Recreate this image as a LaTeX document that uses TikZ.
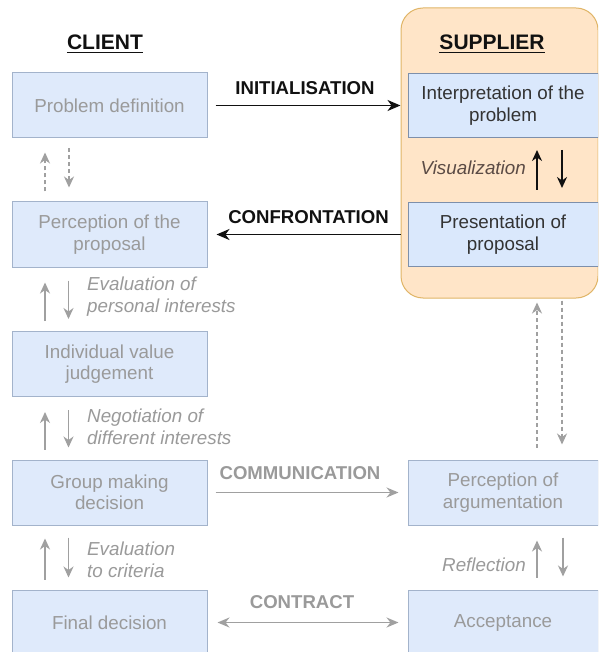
\documentclass[tikz,border=0pt]{standalone}
\usepackage{fontspec}
\setmainfont{Liberation Sans}
\usetikzlibrary{arrows.meta}
\definecolor{bfill}{HTML}{DAE8FC}
\definecolor{bline}{HTML}{7D8FAB}
\definecolor{ffill}{HTML}{DFEAFB}
\definecolor{fline}{HTML}{A3B3CB}
\definecolor{ftext}{HTML}{9A9A9A}
\definecolor{agrey}{HTML}{A0A0A0}
\definecolor{ofill}{HTML}{FFE5C8}
\definecolor{oline}{HTML}{E0B567}
\definecolor{dtext}{HTML}{333333}
\definecolor{vtext}{HTML}{5B4B45}
\definecolor{kline}{HTML}{111111}
\begin{document}
\begin{tikzpicture}[x=1pt,y=-1pt,
  boxtxt/.style={font=\fontsize{18.8}{21.5}\selectfont, align=center},
  sbox/.style={boxtxt, draw=bline, fill=bfill, line width=1pt, minimum width=190pt, minimum height=64pt, inner sep=0pt, text=dtext},
  fbox/.style={boxtxt, draw=fline, fill=ffill, line width=1pt, minimum width=195pt, minimum height=65pt, inner sep=0pt, text=ftext},
  title/.style={font=\bfseries\fontsize{21}{25}\selectfont, inner sep=0pt, text=kline, anchor=base},
  klab/.style={font=\bfseries\fontsize{18.6}{22}\selectfont, inner sep=0pt, text=kline},
  glab/.style={font=\bfseries\fontsize{18.6}{22}\selectfont, inner sep=0pt, text=ftext},
  ilab/.style={font=\itshape\fontsize{18.8}{22.5}\selectfont, inner sep=0pt, text=ftext, align=left, anchor=west},
  karrow/.style={line width=1.6pt, draw=kline, -{Stealth[length=13pt,width=11pt,inset=4pt]}},
  garrow/.style={line width=1.7pt, draw=agrey, -{Stealth[length=12pt,width=10pt,inset=4pt]}},
  gdarrow/.style={line width=1.7pt, draw=agrey, {Stealth[length=12pt,width=10pt,inset=4pt]}-{Stealth[length=12pt,width=10pt,inset=4pt]}},
  vk/.style={line width=1.7pt, draw=kline, -{Stealth[length=11pt,width=10pt,inset=3.5pt]}},
  vg/.style={line width=1.6pt, draw=agrey, -{Stealth[length=11pt,width=10pt,inset=3.5pt]}},
  dg/.style={vg, line width=1.3pt, dash pattern=on 4pt off 3pt}
]
\useasboundingbox (0,0) rectangle (598,652);
\fill[white] (0,0) rectangle (598,652);
\clip (0,0) rectangle (598,652);

% supplier container
\node[draw=oline, fill=ofill, rounded corners=22pt, minimum width=197pt, minimum height=290pt, line width=1pt, inner sep=0pt] (sup) at (499.5,153) {};

% titles
\node[title] (client) at (105,50) {CLIENT};
\draw[line width=1.3pt, kline] ([yshift=-2.5pt]client.base west) -- ([yshift=-2.5pt]client.base east);
\node[title] (supplier) at (492,50) {SUPPLIER};
\draw[line width=1.3pt, kline] ([yshift=-2.5pt]supplier.base west) -- ([yshift=-2.5pt]supplier.base east);

% client boxes
\node[fbox] (pd) at (109.5,105.5) {Problem definition};
\node[fbox] (pp) at (109.5,234.5) {Perception of the\\proposal};
\node[fbox] (ivj) at (109.5,364) {Individual value\\judgement};
\node[fbox] (gmd) at (109.5,492.5) {Group making\\decision};
\node[fbox] (fd) at (109.5,622.5) {Final decision};

% supplier boxes
\node[sbox] (ip) at (503,105.5) {Interpretation of the\\problem};
\node[sbox] (pr) at (503,234.5) {Presentation of\\proposal};
\node[fbox, minimum width=190pt] (pa) at (503,492.5) {Perception of\\argumentation};
\node[fbox, minimum width=190pt] (ac) at (503,622.5) {Acceptance};

% horizontal connectors
\draw[karrow] ([xshift=8pt]pd.east) -- node[klab, above=10pt, xshift=-3pt] (lini) {INITIALISATION} (sup.west |- pd.east);
\draw[karrow] (sup.west |- pp.east) -- node[klab, above=10pt] (lcon) {CONFRONTATION} ([xshift=9pt]pp.east);
\draw[garrow] ([xshift=8pt]gmd.east) -- node[glab, above=12pt, xshift=-7pt] (lcom) {COMMUNICATION} ([xshift=-9pt]pa.west);
\draw[gdarrow] ([xshift=10pt]fd.east) -- node[glab, above=12.5pt, xshift=-6pt] (lctr) {CONTRACT} ([xshift=-9pt]ac.west);

% client vertical connectors
\draw[dg] ([shift={(-64.5,-10)}]pp.north) -- ([shift={(-64.5,14)}]pd.south);
\draw[dg] ([shift={(-40.5,10)}]pd.south) -- ([shift={(-40.5,-14)}]pp.north);

\draw[vg] ([shift={(-64.5,-10)}]ivj.north) -- ([shift={(-64.5,15)}]pp.south);
\draw[vg] ([shift={(-41,13)}]pp.south) -- ([shift={(-41,-12)}]ivj.north);
\node[ilab] (l1) at (87,296.5) {Evaluation of\\personal interests};

\draw[vg] ([shift={(-64.5,-10)}]gmd.north) -- ([shift={(-64.5,15)}]ivj.south);
\draw[vg] ([shift={(-41,13)}]ivj.south) -- ([shift={(-41,-12)}]gmd.north);
\node[ilab] (l2) at (87,427) {Negotiation of\\different interests};

\draw[vg] ([shift={(-64.5,-10)}]fd.north) -- ([shift={(-64.5,13)}]gmd.south);
\draw[vg] ([shift={(-41,12)}]gmd.south) -- ([shift={(-41,-12)}]fd.north);
\node[ilab] (l3) at (87,560) {Evaluation\\to criteria};

% supplier vertical connectors
\draw[vk] ([shift={(34,-12)}]pr.north) -- ([shift={(34,12)}]ip.south);
\draw[vk] ([shift={(59,12)}]ip.south) -- ([shift={(59,-14)}]pr.north);
\node[ilab, anchor=east, text=vtext] (lv) at (526,168) {Visualization};

\coordinate (sb) at (pa.north |- sup.south);
\draw[dg] ([shift={(34,-12)}]pa.north) -- ([shift={(34,4)}]sb);
\draw[dg] ([shift={(59,2)}]sb) -- ([shift={(59,-15)}]pa.north);

\draw[vg] ([shift={(34,-12)}]ac.north) -- ([shift={(34,15)}]pa.south);
\draw[vg] ([shift={(60,12)}]pa.south) -- ([shift={(60,-13)}]ac.north);
\node[ilab, anchor=east] (lr) at (526,565) {Reflection};
\end{tikzpicture}
\end{document}
